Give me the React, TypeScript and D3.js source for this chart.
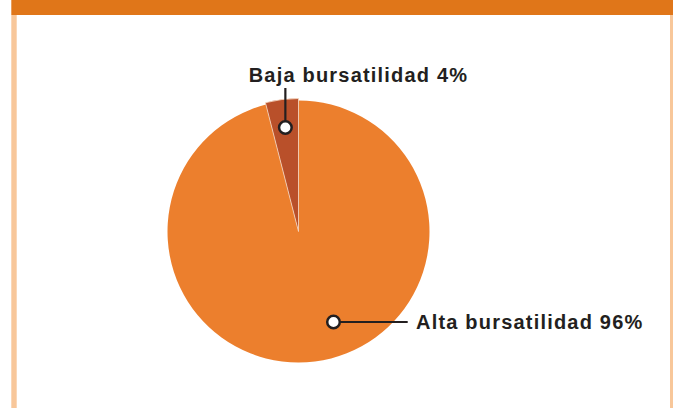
import React from "react";
import * as d3 from "d3";

const categories = ["Alta bursatilidad", "Baja bursatilidad"];
const values = [96, 4];
const colors = ["#EC7F2D", "#B9502A"];

const W = 673;
const H = 408;

export default function App() {
  const cx = 298.5;
  const cy = 231.5;
  const r = 131;
  const pie = d3.pie<number>().sort(null).value((d) => d);
  const arcs = pie(values);
  const arcMain = d3.arc<d3.PieArcDatum<number>>().innerRadius(0).outerRadius(r);
  const arcSmall = d3.arc<d3.PieArcDatum<number>>().innerRadius(0).outerRadius(r + 2);

  const font = "'Liberation Sans', Arial, Helvetica, sans-serif";
  const labelStyle = {
    fontFamily: font,
    fontWeight: 700,
    fontSize: 20,
    letterSpacing: 1.2,
    fill: "#231F20",
  } as const;

  const smallMid = (arcs[1].startAngle + arcs[1].endAngle) / 2;
  const pSmall = [cx + Math.sin(smallMid) * (r * 0.8), cy - Math.cos(smallMid) * (r * 0.8)];
  const pBig = [cx + 35, cy + 90.5];

  return (
    <svg
      width={W}
      height={H}
      style={{ display: "block", position: "fixed", left: 0, top: 0 }}
    >
      <rect x={0} y={0} width={W} height={H} fill="#FFFFFF" />
      <rect x={11.3} y={0} width={W - 11.3} height={15} fill="#E07619" />
      <rect x={11.3} y={15} width={5.4} height={H - 15} fill="#F8C79A" />
      <rect x={670} y={15} width={5} height={H - 15} fill="#F8C79A" />
      <g transform={`translate(${cx},${cy})`}>
        <path d={arcMain(arcs[0]) || ""} fill={colors[0]} />
        <path d={arcSmall(arcs[1]) || ""} fill={colors[1]} stroke="#F6D9C4" strokeWidth={0.8} />
      </g>
      <line x1={pSmall[0]} y1={pSmall[1]} x2={pSmall[0]} y2={88} stroke="#231F20" strokeWidth={2.2} />
      <circle cx={pSmall[0]} cy={pSmall[1]} r={6.3} fill="#FFFFFF" stroke="#231F20" strokeWidth={2.5} />
      <text x={358.5} y={81.5} textAnchor="middle" style={labelStyle}>
        {`${categories[1]} ${values[1]}%`}
      </text>
      <line x1={pBig[0]} y1={pBig[1]} x2={407.7} y2={pBig[1]} stroke="#231F20" strokeWidth={2.2} />
      <circle cx={pBig[0]} cy={pBig[1]} r={6.3} fill="#FFFFFF" stroke="#231F20" strokeWidth={2.5} />
      <text x={416} y={328.5} style={labelStyle}>
        {`${categories[0]} ${values[0]}%`}
      </text>
    </svg>
  );
}
